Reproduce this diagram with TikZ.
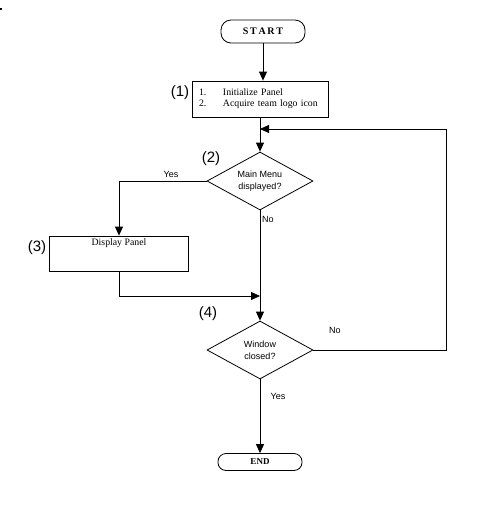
\documentclass[tikz,border=0pt]{standalone}
\usepackage{fontspec}
\setmainfont{Liberation Serif}
\newfontfamily\diasans{Liberation Sans}
\usetikzlibrary{shapes.geometric,arrows.meta}
\begin{document}
\begin{tikzpicture}[x=1pt,y=-1pt,
  line width=0.8pt,
  arr/.style={-{Triangle[length=9pt,width=8pt]}},
  term/.style={draw,rectangle,rounded corners=10pt,minimum height=23pt,inner sep=0pt,font=\fontsize{10}{11}\selectfont\bfseries},
  procbox/.style={draw,rectangle,inner sep=0pt},
  decide/.style={draw,diamond,aspect=2,minimum width=106pt,minimum height=58pt,inner sep=0pt,align=center,font=\diasans\fontsize{9}{12}\selectfont},
  lbl/.style={font=\diasans\fontsize{9}{11}\selectfont,inner sep=0pt},
  stepnum/.style={font=\diasans\fontsize{15}{16}\selectfont,inner sep=0pt}]
\path[use as bounding box] (0,0) rectangle (499,515);
\fill (0,8) rectangle (2,10);
\node[term,minimum width=84pt] (start) at (263,31.5) {S\,T\,A\,R\,T};
\node[procbox,minimum width=136pt,minimum height=36pt,text width=122pt,inner xsep=7pt,align=left,font=\fontsize{9.8}{11}\selectfont] (b1) at (260,99) {\makebox[24pt][l]{1.}Initialize Panel\\\makebox[24pt][l]{2.}Acquire team logo icon};
\node[decide] (d2) at (260,181) {Main Menu\\displayed?};
\node[procbox,minimum width=139pt,minimum height=35pt,label={[anchor=north,inner sep=3pt,font=\fontsize{9.8}{11}\selectfont]north:Display Panel}] (b3) at (119,253.5) {};
\node[decide] (d4) at (260,350) {Window\\closed?};
\node[term,minimum width=84pt,minimum height=17pt,rounded corners=8pt,font=\fontsize{9}{10}\selectfont\bfseries] (end) at (260,462) {END};
\coordinate (j1) at (260,129);
\coordinate (j2) at (260,296);
\coordinate (loopc) at (446,129);
\node[stepnum] (n1) at (180,93) {(1)};
\node[stepnum] (n2) at (211,159) {(2)};
\node[stepnum] (n3) at (37,248) {(3)};
\node[stepnum] (n4) at (208,314) {(4)};
\node[lbl] (yes2) at (171,174) {Yes};
\node[lbl] (no2) at (268,219) {No};
\node[lbl] (no4) at (335,330) {No};
\node[lbl] (yes4) at (278,396) {Yes};
\draw[arr] (start.south) -- (start.south |- b1.north);
\draw[arr] (b1.south) -- (d2.north);
\draw[arr] (d2.west) -| (b3.north);
\draw[arr] (d2.south) -- (d4.north);
\draw[arr] (b3.south) |- (j2);
\draw[arr] (d4.east) -| (loopc) -- (j1);
\draw[arr] (d4.south) -- (end.north);
\end{tikzpicture}
\end{document}
